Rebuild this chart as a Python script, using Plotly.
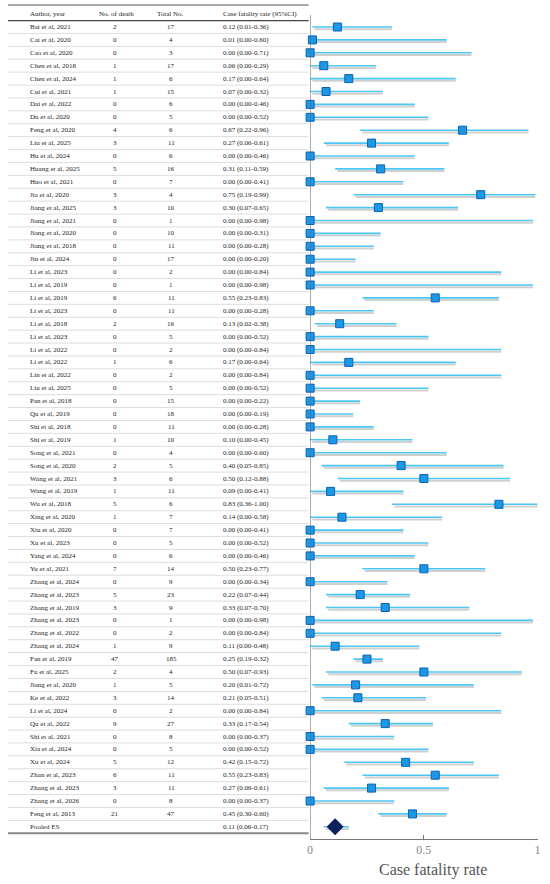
import plotly.graph_objects as go

authors = ["Bai et al, 2021","Cai et al, 2020","Cao et al, 2020","Chen et al, 2018","Chen et al, 2024",
"Cui et al, 2021","Dai et al, 2022","Du et al, 2020","Feng et al, 2020","Liu et al, 2025",
"Hu et al, 2024","Huang et al, 2025","Huo et al, 2021","Jia et al, 2020","Jiang et al, 2025",
"Jiang et al, 2021","Jiang et al, 2020","Jiang et al, 2018","Jin et al, 2024","Li et al, 2023",
"Li et al, 2019","Li et al, 2019","Li et al, 2023","Li et al, 2018","Li et al, 2023",
"Li et al, 2022","Li et al, 2022","Lin et al, 2022","Liu et al, 2025","Pan et al, 2018",
"Qu et al, 2019","Shi et al, 2018","Shi et al, 2019","Song et al, 2021","Song et al, 2020",
"Wang et al, 2021","Wang et al, 2019","Wu et al, 2018","Xing et al, 2020","Xiu et al, 2020",
"Xu et al, 2023","Yang et al, 2024","Yu et al, 2021","Zhang et al, 2024","Zhang et al, 2023",
"Zhang et al, 2019","Zhang et al, 2023","Zhang et al, 2022","Zhang et al, 2024","Fan et al, 2019",
"Fu et al, 2025","Jiang et al, 2020","Ke et al, 2022","Li et al, 2024","Qu et al, 2022",
"Shi et al, 2021","Xia et al, 2024","Xu et al, 2024","Zhan et al, 2023","Zhang et al, 2023",
"Zhang et al, 2026","Feng et al, 2013"]
deaths = [2,0,0,1,1,1,0,0,4,3,0,5,0,3,3,0,0,0,0,0,0,6,0,2,0,0,1,0,0,0,0,0,1,0,2,3,1,5,1,0,0,0,7,0,5,3,0,0,1,47,2,1,3,0,9,0,0,5,6,3,0,21]
totals = [17,4,3,17,6,15,6,5,6,11,6,16,7,4,10,1,10,11,17,2,1,11,11,16,5,2,6,2,5,15,18,11,10,4,5,6,11,6,7,7,5,6,14,9,23,9,1,2,9,185,4,5,14,2,27,8,5,12,11,11,8,47]
est = [0.12,0.01,0.00,0.06,0.17,0.07,0.00,0.00,0.67,0.27,0.00,0.31,0.00,0.75,0.30,0.00,0.00,0.00,0.00,0.00,
0.00,0.55,0.00,0.13,0.00,0.00,0.17,0.00,0.00,0.00,0.00,0.00,0.10,0.00,0.40,0.50,0.09,0.83,0.14,0.00,
0.00,0.00,0.50,0.00,0.22,0.33,0.00,0.00,0.11,0.25,0.50,0.20,0.21,0.00,0.33,0.00,0.00,0.42,0.55,0.27,0.00,0.45]
lo = [0.01,0.00,0.00,0.00,0.00,0.00,0.00,0.00,0.22,0.06,0.00,0.11,0.00,0.19,0.07,0.00,0.00,0.00,0.00,0.00,
0.00,0.23,0.00,0.02,0.00,0.00,0.00,0.00,0.00,0.00,0.00,0.00,0.00,0.00,0.05,0.12,0.00,0.36,0.00,0.00,
0.00,0.00,0.23,0.00,0.07,0.07,0.00,0.00,0.00,0.19,0.07,0.01,0.05,0.00,0.17,0.00,0.00,0.15,0.23,0.06,0.00,0.30]
hi = [0.36,0.60,0.71,0.29,0.64,0.32,0.46,0.52,0.96,0.61,0.46,0.59,0.41,0.99,0.65,0.98,0.31,0.28,0.20,0.84,
0.98,0.83,0.28,0.38,0.52,0.84,0.64,0.84,0.52,0.22,0.19,0.28,0.45,0.60,0.85,0.88,0.41,1.00,0.58,0.41,
0.52,0.46,0.77,0.34,0.44,0.70,0.98,0.84,0.48,0.32,0.93,0.72,0.51,0.84,0.54,0.37,0.52,0.72,0.83,0.61,0.37,0.60]
pooled_label = "Pooled ES"
pooled = (0.11, 0.06, 0.17)
headers = ["Author, year", "No. of death", "Total No.", "Case fatality rate (95%CI)"]
xticks = [0, 0.5, 1]
xticklabels = ["0", "0.5", "1"]

W, H = 550, 884
n = len(authors)
rows = list(range(1, n + 1))
pooled_row = n + 1

# pixel geometry: row i at pixel 27 + 12.9*(i-1)
rowpx = 12.9
y_top = 1 - 27 / rowpx
y_bot = 1 + (H - 27) / rowpx

def px(x):
    return x / W

def prow(p):
    return 1 + (p - 27) / rowpx

fig = go.Figure()

serif = "Liberation Serif"
line_col = "#4cc6f2"
shadow_col = "rgba(150,150,150,0.45)"
sh = 2.2 / rowpx

# CI shadow lines
sx, sy = [], []
for r, a, b in zip(rows, lo, hi):
    sx += [a + 0.01, b, None]
    sy += [r + sh, r + sh, None]
sx += [pooled[1] + 0.01, pooled[2], None]
sy += [pooled_row + sh, pooled_row + sh, None]
fig.add_trace(go.Scatter(x=sx, y=sy, mode="lines", line=dict(color=shadow_col, width=2),
                         hoverinfo="skip", showlegend=False, cliponaxis=False))

# CI lines
cx, cy = [], []
for r, a, b in zip(rows, lo, hi):
    cx += [a, b, None]
    cy += [r, r, None]
cx += [pooled[1], pooled[2], None]
cy += [pooled_row, pooled_row, None]
fig.add_trace(go.Scatter(x=cx, y=cy, mode="lines", line=dict(color=line_col, width=1.6),
                         hoverinfo="skip", showlegend=False, cliponaxis=False))

# point estimates
fig.add_trace(go.Scatter(x=est, y=rows, mode="markers",
                         marker=dict(symbol="square", size=8, color="#1b98e6",
                                     line=dict(color="#0d5fb0", width=1)),
                         showlegend=False, cliponaxis=False))
fig.add_trace(go.Scatter(x=[pooled[0]], y=[pooled_row], mode="markers",
                         marker=dict(symbol="diamond", size=13, color="#0c1f5e",
                                     line=dict(color="#0c1f5e", width=0)),
                         showlegend=False, cliponaxis=False))

# table text
anns = []
txtcol = "#1e1e1e"
fs = 7
def add(x, y, t, anchor):
    anns.append(dict(x=px(x), y=y, xref="paper", yref="y", text=t, showarrow=False,
                     xanchor=anchor, yanchor="middle", font=dict(family=serif, size=fs, color=txtcol)))

add(25, 0, headers[0], "left")
add(115, 0, headers[1], "center")
add(169, 0, headers[2], "center")
add(220, 0, headers[3], "left")
for r, a, d, t, e, l, h in zip(rows, authors, deaths, totals, est, lo, hi):
    add(25, r, a, "left")
    add(113, r, str(d), "center")
    add(170, r, str(t), "center")
    add(220, r, f"{e:.2f} ({l:.2f}-{h:.2f})", "left")
add(25, pooled_row, pooled_label, "left")
add(220, pooled_row, f"{pooled[0]:.2f} ({pooled[1]:.2f}-{pooled[2]:.2f})", "left")

anns.append(dict(x=px(435), y=1 - 870 / H, xref="paper", yref="paper", text="Case fatality rate",
                 showarrow=False, xanchor="center", yanchor="middle",
                 font=dict(family=serif, size=16, color="#555555")))

shapes = []
# table lines
shapes.append(dict(type="line", xref="paper", yref="y", x0=px(5), x1=px(309), y0=prow(5), y1=prow(5),
                   line=dict(color="#555555", width=1)))
shapes.append(dict(type="line", xref="paper", yref="y", x0=px(5), x1=px(309), y0=0.5, y1=0.5,
                   line=dict(color="#444444", width=1.2)))
for r in range(1, pooled_row):
    shapes.append(dict(type="line", xref="paper", yref="y", x0=px(5), x1=px(309), y0=r + 0.5, y1=r + 0.5,
                       line=dict(color="#dddddd", width=1)))
shapes.append(dict(type="line", xref="paper", yref="y", x0=px(5), x1=px(309), y0=pooled_row + 0.5,
                   y1=pooled_row + 0.5, line=dict(color="#8a8a8a", width=2.2)))
# y axis line of plot
shapes.append(dict(type="line", xref="x", yref="y", x0=0, x1=0, y0=prow(15), y1=prow(839),
                   line=dict(color="#666666", width=1)))

xpos = 1 - 839 / H
fig.update_layout(
    width=W, height=H, margin=dict(l=0, r=0, t=0, b=0),
    paper_bgcolor="white", plot_bgcolor="white",
    xaxis=dict(domain=[310.5 / W, 540.5 / W], range=[0, 1], anchor="free", position=xpos,
               showline=True, linecolor="#777777", linewidth=1, ticks="inside", ticklen=4,
               tickcolor="#777777", tickvals=xticks, ticktext=xticklabels, showgrid=False,
               zeroline=False, tickfont=dict(family=serif, size=12, color="#888888")),
    yaxis=dict(domain=[0, 1], range=[y_bot, y_top], visible=False),
    annotations=anns, shapes=shapes,
)

fig.write_html("out.html", config={"displayModeBar": False},
               post_script="document.body.style.margin='0';document.body.style.overflow='hidden';")
